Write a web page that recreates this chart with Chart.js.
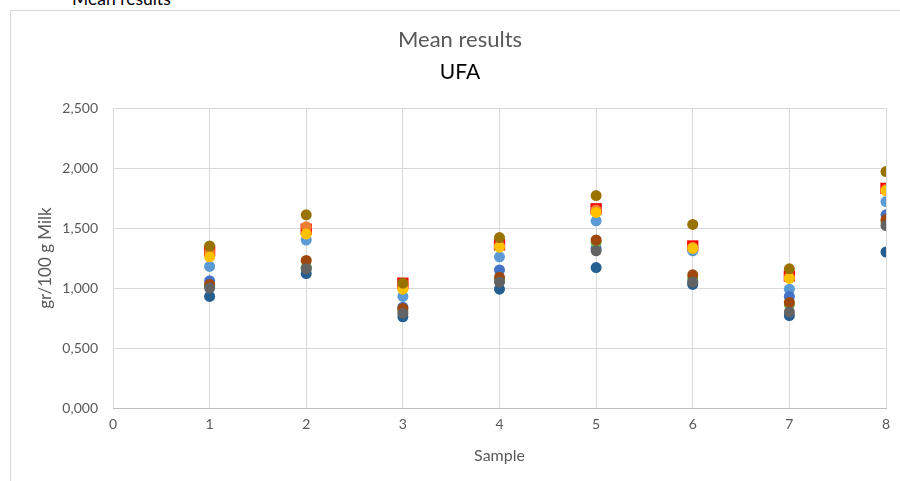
<!DOCTYPE html>
<html>
<head>
<meta charset="utf-8">
<script src="https://cdn.jsdelivr.net/npm/chart.js@4"></script>
<style>
  html, body { margin: 0; padding: 0; background: #fff; overflow: hidden; }
  #wrap { position: relative; width: 900px; height: 481px; overflow: hidden; }
  #frame { position: absolute; left: 10px; top: 10px; width: 900px; height: 481px; border: 1px solid #d9d9d9; }
  #sheetTitle { position: absolute; left: 72px; top: -11px; font: 17.5px Lato, sans-serif; line-height: 20px; color: #000; }
  canvas { position: absolute; left: 0; top: 0; }
</style>
</head>
<body>
<div id="wrap">
  <div id="frame"></div>
  <div id="sheetTitle">Mean results</div>
  <canvas id="ufaChart" width="900" height="481"></canvas>
</div>
<script>
// Samples along the x axis
const samples = [1, 2, 3, 4, 5, 6, 7, 8];

// UFA (gr/100 g Milk) per sample, one array per series
const olive     = [1.35, 1.61, 1.04, 1.42, 1.77, 1.53, 1.16, 1.97];
const red       = [1.31, 1.49, 1.04, 1.36, 1.66, 1.35, 1.10, 1.83];
const orange    = [1.30, 1.51, 1.03, 1.35, 1.65, 1.34, 1.09, 1.82];
const gold      = [1.26, 1.45, 0.99, 1.34, 1.63, 1.33, 1.08, 1.81];
const lightBlue = [1.18, 1.40, 0.93, 1.26, 1.56, 1.31, 0.99, 1.72];
const blue      = [1.06, 1.17, 0.84, 1.15, 1.33, 1.05, 0.93, 1.61];
const brown     = [1.03, 1.23, 0.83, 1.09, 1.40, 1.11, 0.88, 1.57];
const green     = [1.02, 1.17, 0.81, 1.07, 1.38, 1.08, 0.86, 1.55];
const gray      = [1.00, 1.16, 0.79, 1.05, 1.31, 1.05, 0.80, 1.52];
const darkBlue  = [0.93, 1.12, 0.76, 0.99, 1.17, 1.03, 0.77, 1.30];

const yTicks = [0, 0.5, 1, 1.5, 2, 2.5];

function points(values) {
    return samples.map((s, i) => ({ x: s, y: values[i] }));
}

function series(label, values, color, style) {
    return {
        label: label,
        data: points(values),
        backgroundColor: color,
        borderColor: color,
        borderWidth: 0,
        pointStyle: style || 'circle',
        pointRadius: style === 'rect' ? 8 : 5.5,
        pointHoverRadius: style === 'rect' ? 8 : 5.5
    };
}

// first dataset is drawn on top
const datasets = [
    series('Olive', olive, '#997300'),
    series('Gold', gold, '#FFC000'),
    series('Gray', gray, '#636363'),
    series('Brown', brown, '#9E480E'),
    series('Green', green, '#70AD47'),
    series('Dark blue', darkBlue, '#255E91'),
    series('Blue', blue, '#4472C4'),
    series('Light blue', lightBlue, '#5B9BD5'),
    series('Orange', orange, '#ED7D31'),
    series('Red', red, '#FF0000', 'rect')
];

const fmt = v => v.toFixed(3).replace('.', ',');

new Chart(document.getElementById('ufaChart').getContext('2d'), {
    type: 'scatter',
    data: { datasets: datasets },
    options: {
        responsive: false,
        animation: false,
        layout: { padding: { left: 34, right: 14, top: 10, bottom: 0 } },
        plugins: {
            legend: { display: false },
            tooltip: { enabled: false },
            title: {
                display: true,
                text: 'Mean results',
                color: '#595959',
                font: { family: 'Lato', size: 22, weight: 'normal' },
                padding: { top: 16.8, bottom: 0 }
            },
            subtitle: {
                display: true,
                text: 'UFA',
                color: '#000000',
                font: { family: 'Lato', size: 21, weight: 'normal' },
                padding: { top: 6.2, bottom: 23.4 }
            }
        },
        scales: {
            x: {
                type: 'linear',
                min: 0,
                max: 8,
                ticks: {
                    stepSize: 1,
                    padding: 8,
                    color: '#595959',
                    font: { family: 'Lato', size: 14 }
                },
                grid: { color: '#d9d9d9', drawTicks: false },
                border: { color: '#bfbfbf' },
                title: {
                    display: true,
                    text: 'Sample',
                    color: '#595959',
                    font: { family: 'Lato', size: 16 },
                    padding: { top: 0, bottom: 15.5 }
                },
                afterFit: axis => { axis.height = 73; }
            },
            y: {
                min: 0,
                max: 2.5,
                afterBuildTicks: axis => { axis.ticks = yTicks.map(v => ({ value: v })); },
                ticks: {
                    padding: 15,
                    color: '#595959',
                    font: { family: 'Lato', size: 14 },
                    callback: v => fmt(v)
                },
                grid: { color: '#d9d9d9', drawTicks: false },
                border: { display: false },
                title: {
                    display: true,
                    text: 'gr/100 g Milk',
                    color: '#595959',
                    font: { family: 'Lato', size: 17 },
                    padding: { top: 1, bottom: 0 }
                },
                afterFit: axis => { axis.width = 79; }
            }
        }
    }
});
</script>
</body>
</html>
